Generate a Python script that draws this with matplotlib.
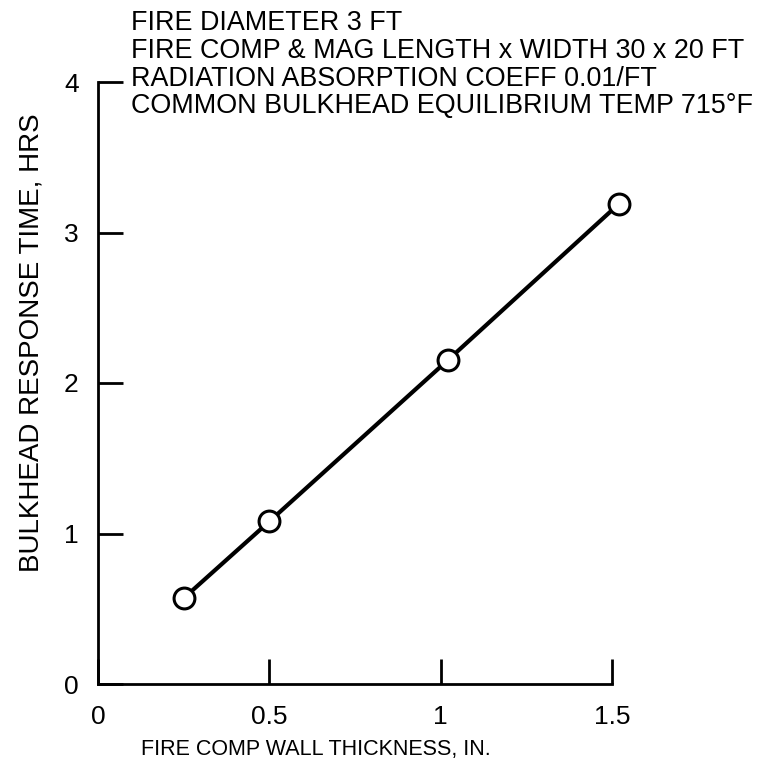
import matplotlib.pyplot as plt

plt.rcParams['font.family'] = ['Liberation Sans', 'DejaVu Sans']

# wall thickness (in.) vs bulkhead response time (hrs)
thickness = [0.25, 0.5, 1.02, 1.52]
response_time = [0.57, 1.08, 2.15, 3.19]

x_ticks = [0, 0.5, 1, 1.5]
x_tick_labels = ['0', '0.5', '1', '1.5']
y_ticks = [0, 1, 2, 3, 4]

notes = [
    'FIRE DIAMETER 3 FT',
    'FIRE COMP & MAG LENGTH x WIDTH 30 x 20 FT',
    'RADIATION ABSORPTION COEFF 0.01/FT',
    'COMMON BULKHEAD EQUILIBRIUM TEMP 715\u00b0F',
]

W, H = 761, 778
fig = plt.figure(figsize=(W / 100, H / 100), dpi=100)
ax = fig.add_axes([98 / W, 1 - 684 / H, (612 - 98) / W, (684 - 82) / H])

ax.plot(thickness, response_time, color='black', lw=3,
        marker='o', markersize=15, markerfacecolor='white',
        markeredgecolor='black', markeredgewidth=2.2, clip_on=False, zorder=3)

ax.set_xlim(0, 1.5)
ax.set_ylim(0, 4)
ax.set_xticks(x_ticks)
ax.set_xticklabels(x_tick_labels)
ax.set_yticks(y_ticks)

for side in ['top', 'right']:
    ax.spines[side].set_visible(False)
for side in ['left', 'bottom']:
    ax.spines[side].set_linewidth(2)

ax.tick_params(axis='both', direction='in', length=18, width=2,
               labelsize=19)
ax.tick_params(axis='y', pad=14)
ax.tick_params(axis='x', pad=15)

fig.text(316 / W, 1 - 749 / H, 'FIRE COMP WALL THICKNESS, IN.',
         ha='center', va='center', fontsize=15.5)
fig.text(32 / W, 1 - 343 / H, 'BULKHEAD RESPONSE TIME, HRS',
         ha='center', va='center', rotation=90, fontsize=20)

# notes block, one line per baseline
for i, line in enumerate(notes):
    fig.text(131 / W, 1 - (29.5 + 28 * i) / H, line,
             ha='left', va='baseline', fontsize=19.4)

fig.savefig('out.png', dpi=100)
